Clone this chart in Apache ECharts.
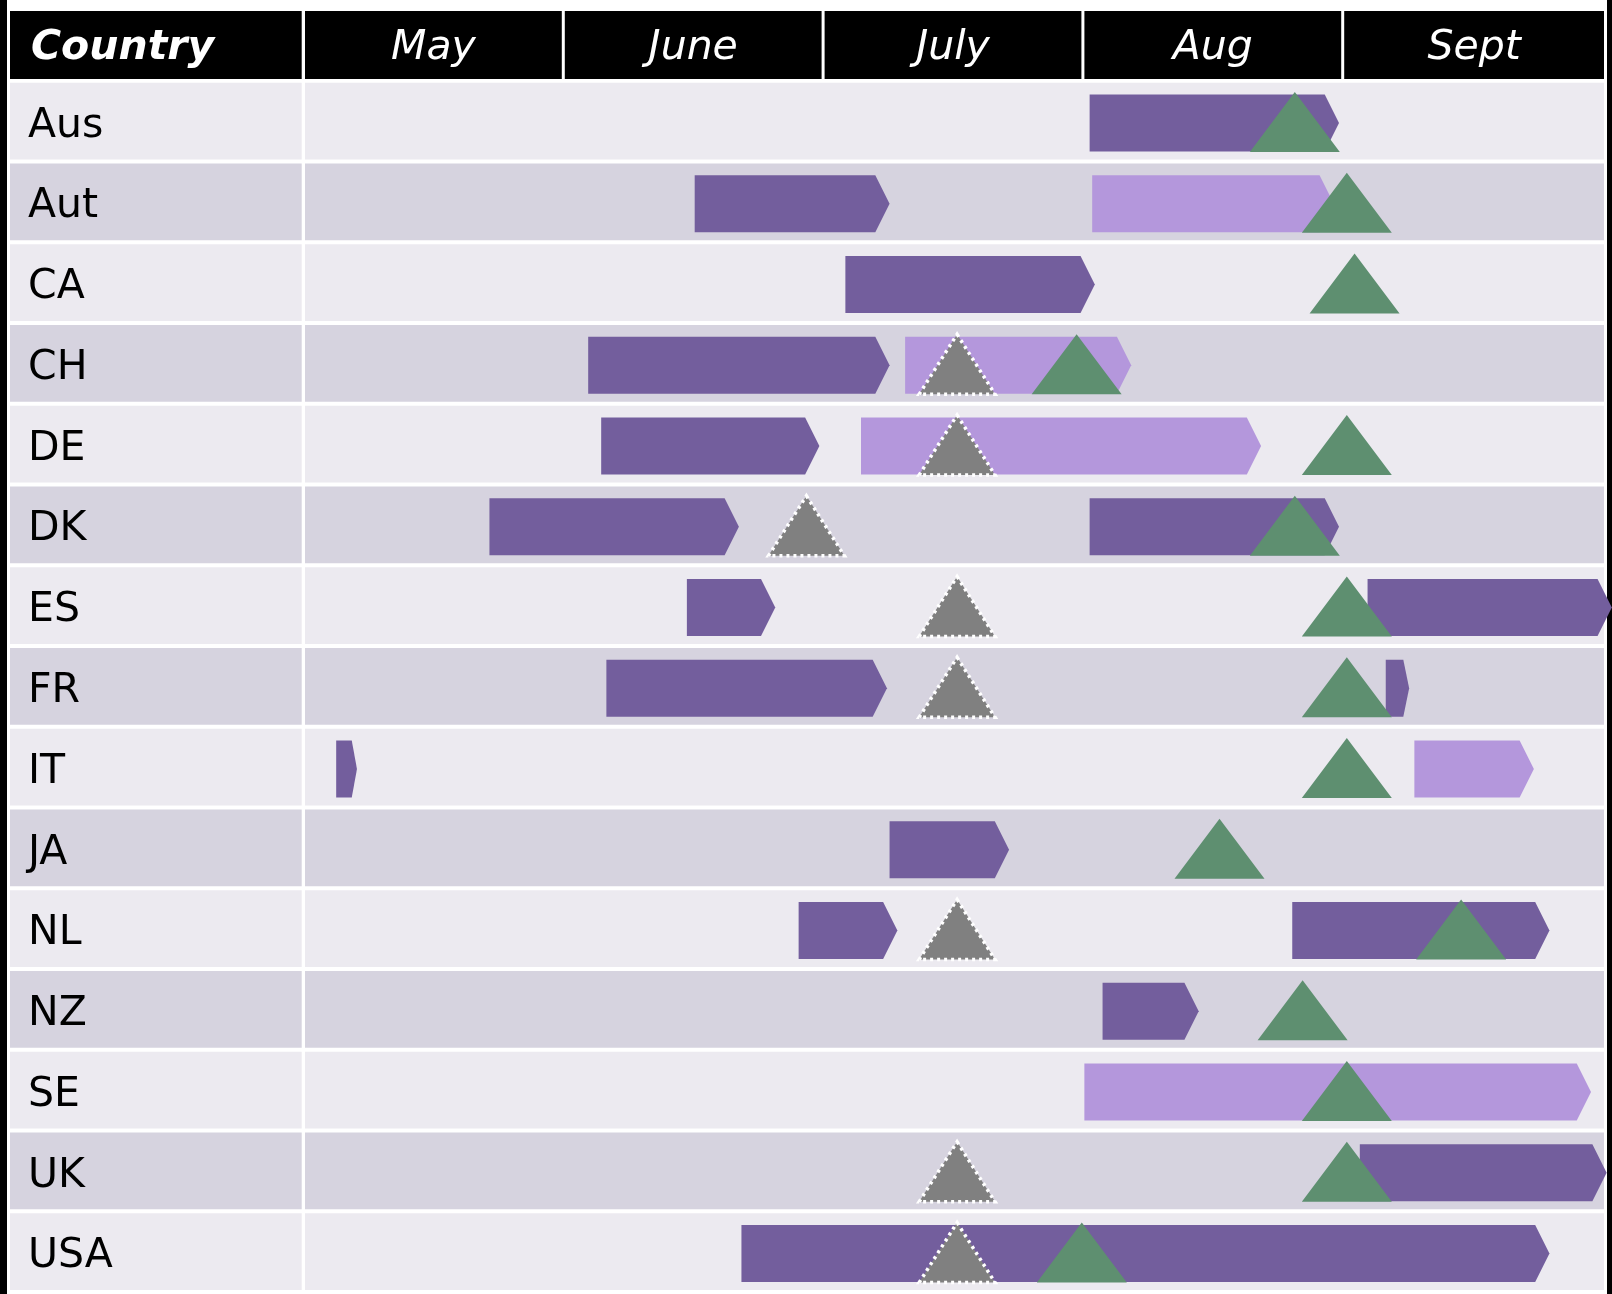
<!DOCTYPE html>
<html>
<head>
<meta charset="utf-8">
<script src="https://cdn.jsdelivr.net/npm/echarts@6/dist/echarts.min.js"></script>
<style>
html,body{margin:0;padding:0;background:#fff;}
#c{width:1612px;height:1294px;}
</style>
</head>
<body>
<div id="c"></div>
<script>
// ---- data ----
const countries = ['Aus','Aut','CA','CH','DE','DK','ES','FR','IT','JA','NL','NZ','SE','UK','USA'];
const months = ['May','June','July','Aug','Sept'];
const monthStart = 5; // May = 5 ... Sept = 9, axis ends at 10
// dark purple bars: [start, end, country]
const darkBars = [
  [8.02, 8.98, 'Aus'],
  [6.50, 7.25, 'Aut'],
  [7.08, 8.04, 'CA'],
  [6.09, 7.25, 'CH'],
  [6.14, 6.98, 'DE'],
  [5.71, 6.67, 'DK'],
  [8.02, 8.98, 'DK'],
  [6.47, 6.81, 'ES'],
  [9.09, 10.03, 'ES'],
  [6.16, 7.24, 'FR'],
  [9.16, 9.25, 'FR'],
  [5.12, 5.20, 'IT'],
  [7.25, 7.71, 'JA'],
  [6.90, 7.28, 'NL'],
  [8.80, 9.79, 'NL'],
  [8.07, 8.44, 'NZ'],
  [9.06, 10.01, 'UK'],
  [6.68, 9.79, 'USA']
];
// light purple bars: [start, end, country]
const lightBars = [
  [8.03, 8.96, 'Aut'],
  [7.31, 8.18, 'CH'],
  [7.14, 8.68, 'DE'],
  [9.27, 9.73, 'IT'],
  [8.00, 9.95, 'SE']
];
// grey (dotted) triangles: [position, country]
const greyMarks = [
  [7.51, 'CH'], [7.51, 'DE'], [6.93, 'DK'], [7.51, 'ES'], [7.51, 'FR'],
  [7.51, 'NL'], [7.51, 'UK'], [7.51, 'USA']
];
// green triangles: [position, country]
const greenMarks = [
  [8.81, 'Aus'], [9.01, 'Aut'], [9.04, 'CA'], [7.97, 'CH'], [9.01, 'DE'],
  [8.81, 'DK'], [9.01, 'ES'], [9.01, 'FR'], [9.01, 'IT'], [8.52, 'JA'],
  [9.45, 'NL'], [8.84, 'NZ'], [9.01, 'SE'], [9.01, 'UK'], [7.99, 'USA']
];

// ---- styles ----
const FONT = '"DejaVu Sans", Verdana, sans-serif';
const C_LIGHT_ROW = '#ECEAF0';
const C_DARK_ROW = '#D6D3DF';
const C_DARK = '#735E9D';
const C_LIGHTP = '#B497DC';
const C_GREEN = '#5E8F70';
const C_GREY = '#808080';

const chart = echarts.init(document.getElementById('c'), null, {renderer: 'canvas'});

function bandInfo(api, idx) {
  const c = api.coord([monthStart, idx]);
  const band = api.size([0, 1])[1];
  return {center: c[1], top: c[1] - band / 2, band: band};
}

function rowRender(params, api) {
  const idx = api.value(0);
  const cs = params.coordSys;
  const b = bandInfo(api, idx);
  const fill = idx % 2 === 0 ? C_LIGHT_ROW : C_DARK_ROW;
  const h = b.band - 4;
  return {
    type: 'group',
    children: [
      {type: 'rect', shape: {x: 10, y: b.top, width: cs.x - 13.3, height: h}, style: {fill: fill}},
      {type: 'rect', shape: {x: cs.x, y: b.top, width: cs.width, height: h}, style: {fill: fill}},
      {type: 'text', style: {text: countries[params.dataIndex], x: 28, y: b.center + 3, fill: '#000',
        font: '41px ' + FONT, align: 'left', verticalAlign: 'middle'}}
    ]
  };
}

function headerRender(params, api) {
  const cs = params.coordSys;
  const i = params.dataIndex;
  const x0 = api.coord([api.value(0), 0])[0];
  const x1 = api.coord([api.value(1), 0])[0];
  const top = cs.y - 71.7;
  const h = 68;
  const right = (i === months.length - 1) ? x1 : x1 - 3;
  const children = [
    {type: 'rect', shape: {x: x0, y: top, width: right - x0, height: h}, style: {fill: '#000'}},
    {type: 'text', style: {text: months[i], x: (x0 + right) / 2, y: top + h / 2 + 3, fill: '#fff',
      font: 'italic 41px ' + FONT, align: 'center', verticalAlign: 'middle'}}
  ];
  if (i === 0) {
    children.push({type: 'rect', shape: {x: 10, y: top, width: cs.x - 13.3, height: h}, style: {fill: '#000'}});
    children.push({type: 'text', style: {text: 'Country', x: 31, y: top + h / 2 + 3, fill: '#fff',
      font: 'italic bold 41px ' + FONT, align: 'left', verticalAlign: 'middle'}});
  }
  return {type: 'group', children: children};
}

function barRender(color) {
  return function (params, api) {
    const idx = api.value(2);
    const p0 = api.coord([api.value(0), idx]);
    const p1 = api.coord([api.value(1), idx]);
    const b = bandInfo(api, idx);
    const cy = b.center;
    const h = 57;
    const top = cy - h / 2, bot = cy + h / 2;
    const w = p1[0] - p0[0];
    const tip = 0.25 * Math.min(w, h);
    return {
      type: 'polygon',
      shape: {points: [[p0[0], top], [p1[0] - tip, top], [p1[0], cy], [p1[0] - tip, bot], [p0[0], bot]]},
      style: {fill: color}
    };
  };
}

function triRender(color, width, dotted) {
  return function (params, api) {
    const idx = api.value(1);
    const p = api.coord([api.value(0), idx]);
    const b = bandInfo(api, idx);
    const cy = b.center - 1;
    const h = 60;
    const style = {fill: color};
    if (dotted) {
      style.stroke = '#fff';
      style.lineWidth = 3.5;
      style.lineDash = [3, 4];
    }
    return {
      type: 'polygon',
      shape: {points: [[p[0], cy - h / 2], [p[0] + width / 2, cy + h / 2], [p[0] - width / 2, cy + h / 2]]},
      style: style
    };
  };
}

const option = {
  backgroundColor: '#fff',
  animation: false,
  grid: {left: 305, top: 82.7, width: 1299, height: 81 * countries.length},
  xAxis: {
    type: 'value', min: monthStart, max: monthStart + months.length, interval: 1,
    show: false
  },
  yAxis: {
    type: 'category', data: countries, inverse: true,
    axisLine: {show: false}, axisTick: {show: false}, splitLine: {show: false},
    axisLabel: {show: false}
  },
  graphic: [
    {type: 'rect', left: 0, top: 0, shape: {width: 7, height: 1294}, style: {fill: '#000'}, z: -1},
    {type: 'rect', left: 1607, top: 0, shape: {width: 5, height: 1294}, style: {fill: '#000'}, z: -1}
  ],
  series: [
    {
      type: 'custom', name: 'rows', renderItem: rowRender, silent: true, clip: false, z: 1,
      encode: {y: 0}, data: countries.map((c) => [c])
    },
    {
      type: 'custom', name: 'header', renderItem: headerRender, silent: true, clip: false, z: 1,
      encode: {x: [0, 1]}, data: months.map((m, i) => [monthStart + i, monthStart + i + 1, m])
    },
    {
      type: 'custom', name: 'dark', renderItem: barRender(C_DARK), clip: false, z: 3,
      encode: {x: [0, 1], y: 2}, data: darkBars
    },
    {
      type: 'custom', name: 'light', renderItem: barRender(C_LIGHTP), clip: false, z: 3,
      encode: {x: [0, 1], y: 2}, data: lightBars
    },
    {
      type: 'custom', name: 'grey', renderItem: triRender(C_GREY, 76, true), clip: false, z: 4,
      encode: {x: 0, y: 1}, data: greyMarks
    },
    {
      type: 'custom', name: 'green', renderItem: triRender(C_GREEN, 90, false), clip: false, z: 5,
      encode: {x: 0, y: 1}, data: greenMarks
    }
  ]
};
chart.setOption(option);
</script>
</body>
</html>
